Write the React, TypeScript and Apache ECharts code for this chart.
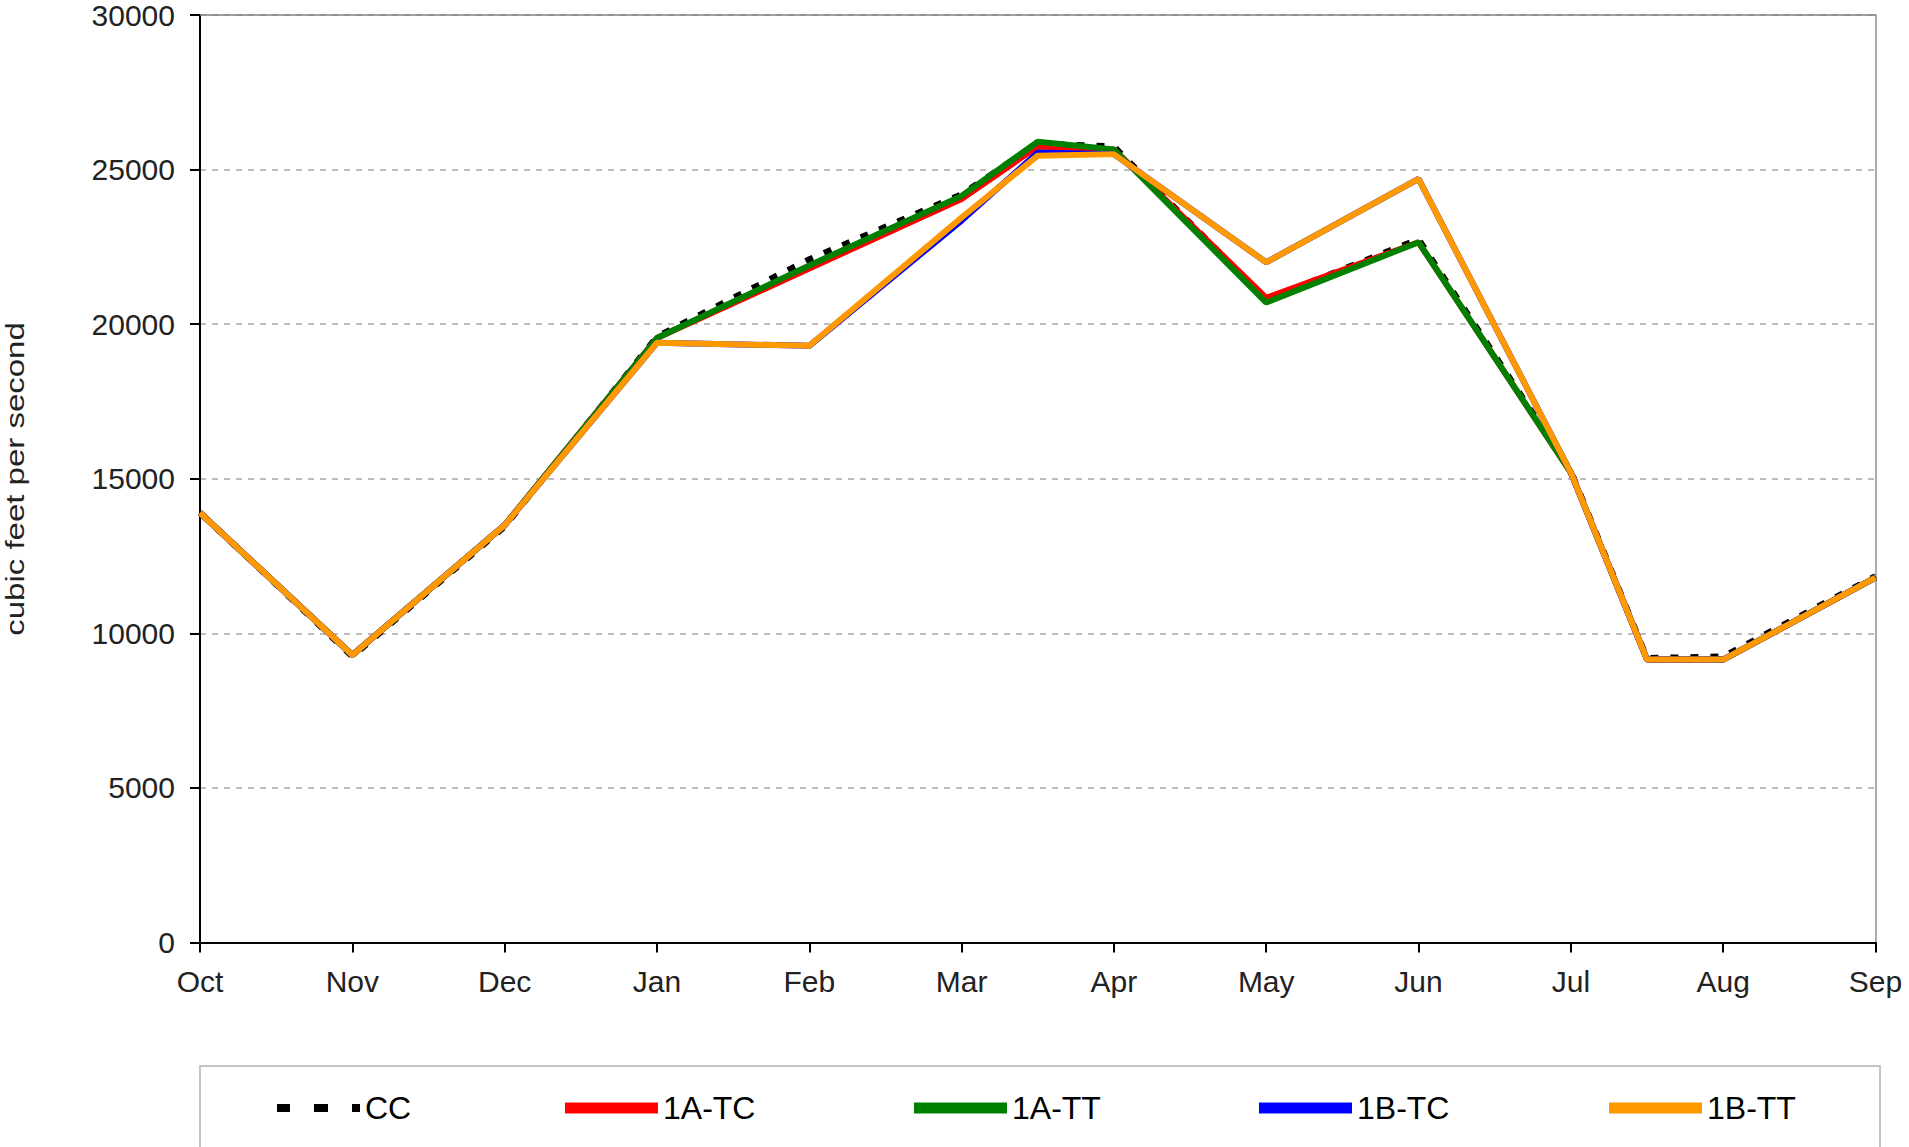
import React, { useEffect, useRef } from "react";
import * as echarts from "echarts";

// ---- data ----
const months = ["Oct", "Nov", "Dec", "Jan", "Feb", "Mar", "Apr", "May", "Jun", "Jul", "Aug", "Sep"];
// time position of each value (month index; .5 = mid-month split periods)
const periods = [0, 1, 2, 3, 4, 5, 5.5, 6, 7, 8, 9, 9.5, 10, 11];
const seriesNames = ["CC", "1A-TC", "1A-TT", "1B-TC", "1B-TT"];
const cc = [13900, 9250, 13450, 19600, 22100, 24200, 25850, 25750, 20800, 22750, 15250, 9200, 9250, 11850];
const a1TC = [13900, 9300, 13500, 19550, 21800, 24050, 25750, 25650, 20850, 22650, 15200, 9150, 9150, 11800];
const a1TT = [13900, 9300, 13500, 19550, 21900, 24150, 25900, 25650, 20700, 22650, 15200, 9150, 9150, 11800];
const b1TC = [13900, 9300, 13500, 19400, 19300, 23350, 25550, 25500, 22000, 24700, 15200, 9150, 9150, 11800];
const b1TT = [13900, 9300, 13500, 19400, 19300, 23450, 25450, 25500, 22000, 24700, 15200, 9150, 9150, 11800];
const yMin = 0;
const yMax = 30000;
const yStep = 5000;
const yAxisTitle = "cubic feet per second";

// ---- styles ----
const FONT = "'Liberation Sans', Arial, sans-serif";
const colors = ["#000000", "#FF0000", "#008000", "#0000FF", "#FF9900"];
const legendLayout = [
  { left: 277, icon: "path://M0,0H13V8H0Z M37,0H51V8H37Z M75,0H83V8H75Z", w: 83, h: 8 },
  { left: 565, icon: "rect", w: 93, h: 11 },
  { left: 914, icon: "rect", w: 93, h: 11 },
  { left: 1259, icon: "rect", w: 93, h: 11 },
  { left: 1609, icon: "rect", w: 93, h: 11 },
];

export default function App() {
  const ref = useRef<HTMLDivElement>(null);

  useEffect(() => {
    if (!ref.current) return;
    const chart = echarts.init(ref.current, undefined, { renderer: "svg" });
    const all = [cc, a1TC, a1TT, b1TC, b1TT];

    const series = all.map((vals, i) => ({
      name: seriesNames[i],
      type: "line",
      xAxisIndex: 0,
      yAxisIndex: 0,
      symbol: "none",
      data: periods.map((p, j) => [p, vals[j]]),
      itemStyle: { color: colors[i] },
      lineStyle:
        i === 0
          ? { color: colors[i], width: 6, type: [8, 12] }
          : { color: colors[i], width: 6, type: "solid" },
      z: 2 + i,
    }));

    const legends = seriesNames.map((n, i) => ({
      show: true,
      orient: "horizontal",
      left: legendLayout[i].left,
      top: 1092,
      padding: 0,
      itemWidth: legendLayout[i].w,
      itemHeight: legendLayout[i].h,
      selectedMode: false,
      icon: legendLayout[i].icon,
      itemStyle: { color: colors[i], borderWidth: 0 },
      textStyle: { fontSize: 32, color: "#000", fontFamily: FONT, lineHeight: 32 },
      data: [{ name: n, icon: legendLayout[i].icon, itemStyle: { color: colors[i], borderWidth: 0 } }],
    }));

    chart.setOption({
      animation: false,
      backgroundColor: "#ffffff",
      textStyle: { fontFamily: FONT },
      grid: { left: 200, right: 33.5, top: 15, bottom: 204.5, containLabel: false },
      legend: legends,
      xAxis: [
        {
          type: "value",
          min: 0,
          max: months.length - 1,
          interval: 1,
          position: "bottom",
          axisLine: { show: true, lineStyle: { color: "#000", width: 2 } },
          axisTick: { show: true, length: 10, lineStyle: { color: "#000", width: 2 } },
          axisLabel: {
            show: true,
            margin: 24,
            fontSize: 30,
            color: "#222",
            fontFamily: FONT,
            showMinLabel: true,
            showMaxLabel: true,
            formatter: (v: number) => months[Math.round(v)] ?? "",
          },
          splitLine: { show: false },
        },
        {
          type: "value",
          min: 0,
          max: months.length - 1,
          position: "top",
          axisLine: { show: true, onZero: false, lineStyle: { color: "#808080", width: 1.5 } },
          axisTick: { show: false },
          axisLabel: { show: false },
          splitLine: { show: false },
        },
      ],
      yAxis: [
        {
          type: "value",
          min: yMin,
          max: yMax,
          interval: yStep,
          position: "left",
          axisLine: { show: true, onZero: false, lineStyle: { color: "#000", width: 2 } },
          axisTick: { show: true, length: 10, lineStyle: { color: "#000", width: 2 } },
          axisLabel: {
            margin: 25,
            fontSize: 30,
            color: "#222",
            fontFamily: FONT,
            formatter: (v: number) => String(v),
          },
          splitLine: { show: true, lineStyle: { color: "#BDBDBD", width: 2, type: [6, 6] } },
        },
        {
          type: "value",
          min: yMin,
          max: yMax,
          interval: yStep,
          position: "right",
          axisLine: { show: true, onZero: false, lineStyle: { color: "#909090", width: 1.5 } },
          axisTick: { show: false },
          axisLabel: { show: false },
          splitLine: { show: false },
        },
      ],
      graphic: [
        {
          type: "rect",
          shape: { x: 200, y: 1066, width: 1680, height: 200 },
          style: { fill: "none", stroke: "#C4C4C4", lineWidth: 2 },
          silent: true,
        },
        {
          type: "text",
          x: 15,
          y: 479,
          rotation: Math.PI / 2,
          scaleX: 1.32,
          scaleY: 1,
          style: {
            text: yAxisTitle,
            fontSize: 25,
            fontFamily: FONT,
            fill: "#222",
            align: "center",
            verticalAlign: "middle",
          },
          silent: true,
        },
      ],
      series,
    });

    return () => {
      chart.dispose();
    };
  }, []);

  return (
    <div
      ref={ref}
      style={{ position: "absolute", left: 0, top: 0, width: "1909px", height: "1147px", background: "#fff" }}
    />
  );
}
